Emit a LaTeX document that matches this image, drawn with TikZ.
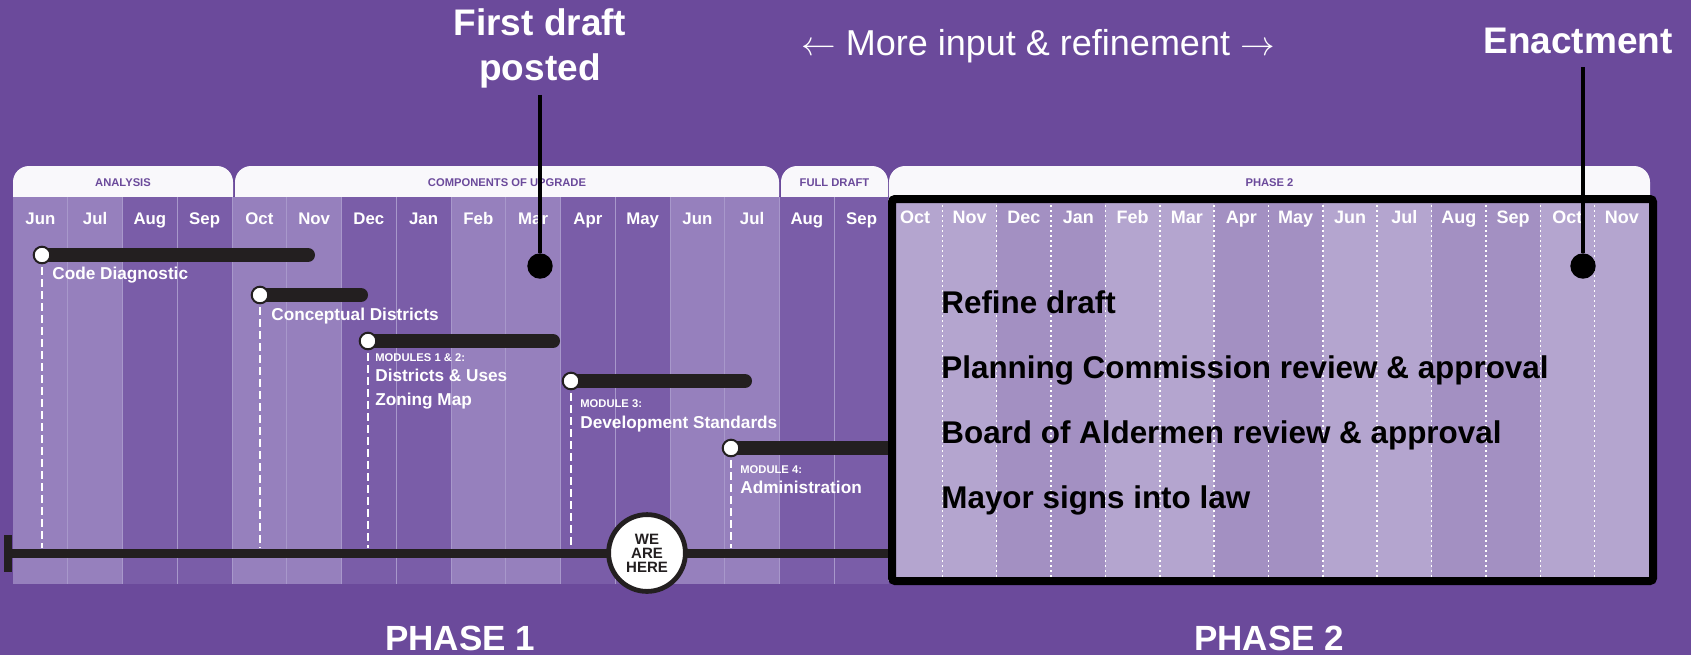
\documentclass[tikz,border=0pt]{standalone}
\usepackage{fontspec}
\setmainfont{Liberation Sans}
\usepackage{tikz}
\usetikzlibrary{positioning}
\definecolor{bgpurple}{HTML}{6B4A9B}
\definecolor{colA}{HTML}{9680BD}
\definecolor{colB}{HTML}{7A5DA8}
\definecolor{colC}{HTML}{B4A5CF}
\definecolor{colD}{HTML}{A390C2}
\definecolor{sepline}{HTML}{A898CB}
\definecolor{barblack}{HTML}{231F20}
\definecolor{tabwhite}{HTML}{F9F8FB}

\begin{document}
\begin{tikzpicture}[x=0.5pt,y=-0.5pt,
  bar/.style={line width=7pt, line cap=round, color=barblack},
  startdot/.style={circle, draw=barblack, fill=white, line width=1pt, minimum size=8.3pt, inner sep=0pt},
  drop/.style={white, line width=1pt, dash pattern=on 4pt off 2pt},
  lbl/.style={anchor=base west, text=white, inner sep=0pt, font=\bfseries\fontsize{8.6}{10}\selectfont},
  modlbl/.style={anchor=base west, text=white, inner sep=0pt, font=\bfseries\fontsize{5.6}{7}\selectfont},
  tablbl/.style={text=bgpurple, font=\bfseries\fontsize{5.6}{7}\selectfont},
  month/.style={anchor=base, text=white, font=\bfseries\fontsize{8.4}{10}\selectfont},
  monthtwo/.style={anchor=base, text=white, font=\bfseries\fontsize{9}{10}\selectfont},
  milestone/.style={circle, fill=black, minimum size=12.7pt, inner sep=0pt},
  leader/.style={line width=2.25pt, black},
  stepline/.style={anchor=base west, text=black, inner sep=0pt, font=\bfseries\fontsize{15.7}{18}\selectfont}]

\useasboundingbox (0,0) rectangle (1691,655);
\fill[bgpurple] (0,0) rectangle (1691,655);

% tabs over the months
\foreach \a/\b/\t in {13/233/ANALYSIS, 235/779/COMPONENTS OF UPGRADE, 781/888/FULL DRAFT, 889/1650/PHASE 2}{
  \fill[tabwhite, rounded corners=8pt] (\a,166) rectangle (\b,212);
  \node[tablbl] (tab\a) at ({(\a+\b)/2},183) {\t};
}

% phase 1 months
\foreach \m [count=\i from 0] in {Jun,Jul,Aug,Sep,Oct,Nov,Dec,Jan,Feb,Mar,Apr,May,Jun,Jul,Aug,Sep}{
  \pgfmathsetmacro{\xl}{13+54.75*\i}
  \pgfmathtruncatemacro{\shade}{mod(floor(\i/2),2)}
  \ifnum\shade=0 \def\cc{colA}\else\def\cc{colB}\fi
  \fill[\cc] (\xl,197) rectangle ({\xl+54.75},584);
  \node[month] (ma\i) at ({\xl+27.375},224) {\m};
}
\foreach \k in {1,...,15}
  \draw[sepline, line width=0.5pt] ({13+54.75*\k},197) -- ({13+54.75*\k},584);

\coordinate (tl) at (0,548);

% code diagnostic
\coordinate (cd) at (42,255);
\coordinate (cd end) at (308,255);
\draw[drop] (cd) -- (cd |- tl);
\draw[bar] (cd) -- (cd end);
\node[startdot] (cd dot) at (cd) {};
\node[lbl] (cd lbl) at (52,279) {Code Diagnostic};

% conceptual districts
\coordinate (cp) at (260,295);
\coordinate (cp end) at (361,295);
\draw[drop] (cp) -- (cp |- tl);
\draw[bar] (cp) -- (cp end);
\node[startdot] (cp dot) at (cp) {};
\node[lbl] (cp lbl) at (271,320) {Conceptual Districts};

% modules 1 and 2
\coordinate (mo) at (368,341);
\coordinate (mo end) at (553,341);
\draw[drop] (mo) -- (mo |- tl);
\draw[bar] (mo) -- (mo end);
\node[startdot] (mo dot) at (mo) {};
\node[modlbl] (mo tag) at (375,361) {MODULES 1 \& 2:};
\node[lbl] (mo lbl) at (375,381) {Districts \& Uses};
\node[lbl] (mo map) at (375,405) {Zoning Map};

% module 3
\coordinate (mt) at (571,381);
\coordinate (mt end) at (745,381);
\draw[drop] (mt) -- (mt |- tl);
\draw[bar] (mt) -- (mt end);
\node[startdot] (mt dot) at (mt) {};
\node[modlbl] (mt tag) at (580,407) {MODULE 3:};
\node[lbl] (mt lbl) at (580,428) {Development Standards};

% module 4
\coordinate (mf) at (731,448);
\coordinate (mf end) at (892,448);
\draw[drop] (mf) -- (mf |- tl);
\draw[bar] (mf) -- (mf end);
\node[startdot] (mf dot) at (mf) {};
\node[modlbl] (mf tag) at (740,473) {MODULE 4:};
\node[lbl] (mf lbl) at (740,493) {Administration};

% time line
\coordinate (tl start) at (7,553);
\coordinate (tl end) at (892,553);
\draw[barblack, line width=4.5pt] (tl start) -- (tl end);
\draw[barblack, line width=4pt] (7.5,535) -- (7.5,572);
\node[circle, draw=barblack, line width=2.4pt, fill=white, minimum size=38.4pt, inner sep=0pt,
  align=center, text=barblack, font=\bfseries\fontsize{7.5}{7}\selectfont] (here) at (647,553) {WE\\ARE\\HERE};

% phase 2 months
\foreach \m [count=\i from 0] in {Oct,Nov,Dec,Jan,Feb,Mar,Apr,May,Jun,Jul,Aug,Sep,Oct,Nov}{
  \pgfmathsetmacro{\xl}{888+54.357*\i}
  \pgfmathtruncatemacro{\shade}{mod(floor(\i/2),2)}
  \ifnum\shade=0 \def\cc{colC}\else\def\cc{colD}\fi
  \fill[\cc] (\xl,199) rectangle ({\xl+54.357},581);
  \node[monthtwo] (mb\i) at ({\xl+27.18},223) {\m};
}
\foreach \k in {1,...,13}
  \draw[white, line width=0.75pt, dash pattern=on 1pt off 1.5pt] ({888+54.357*\k},205) -- ({888+54.357*\k},577);

\node[stepline] (s1) at (941,313) {Refine draft};
\node[stepline] (s2) at (941,378) {Planning Commission review \& approval};
\node[stepline] (s3) at (941,443) {Board of Aldermen review \& approval};
\node[stepline] (s4) at (941,508) {Mayor signs into law};

\draw[black, line width=4pt, rounded corners=1.5pt] (892,199) rectangle (1653,581);

% milestones on top
\node[white, align=center, font=\bfseries\fontsize{18.5}{22.5}\selectfont] (fd) at (540,48) {First draft\\posted};
\node[milestone] (fd dot) at (540,266) {};
\draw[leader] (fd) -- (fd dot);

\node[white, anchor=base, font=\bfseries\fontsize{18.5}{22}\selectfont] (ena) at (1578,53) {Enactment};
\node[milestone] (ena dot) at (1583,266) {};
\draw[leader, shorten <=3.5pt] (ena dot |- ena.south) -- (ena dot);

\node[white, anchor=base, font=\fontsize{18}{22}\selectfont] (more) at (1038,55) {$\leftarrow$ More input \& refinement $\rightarrow$};

\node[white, anchor=base, font=\bfseries\fontsize{17.5}{20}\selectfont] (p1) at (460,650) {PHASE 1};
\node[white, anchor=base, font=\bfseries\fontsize{17.5}{20}\selectfont] (p2) at (1269,650) {PHASE 2};
\end{tikzpicture}
\end{document}
